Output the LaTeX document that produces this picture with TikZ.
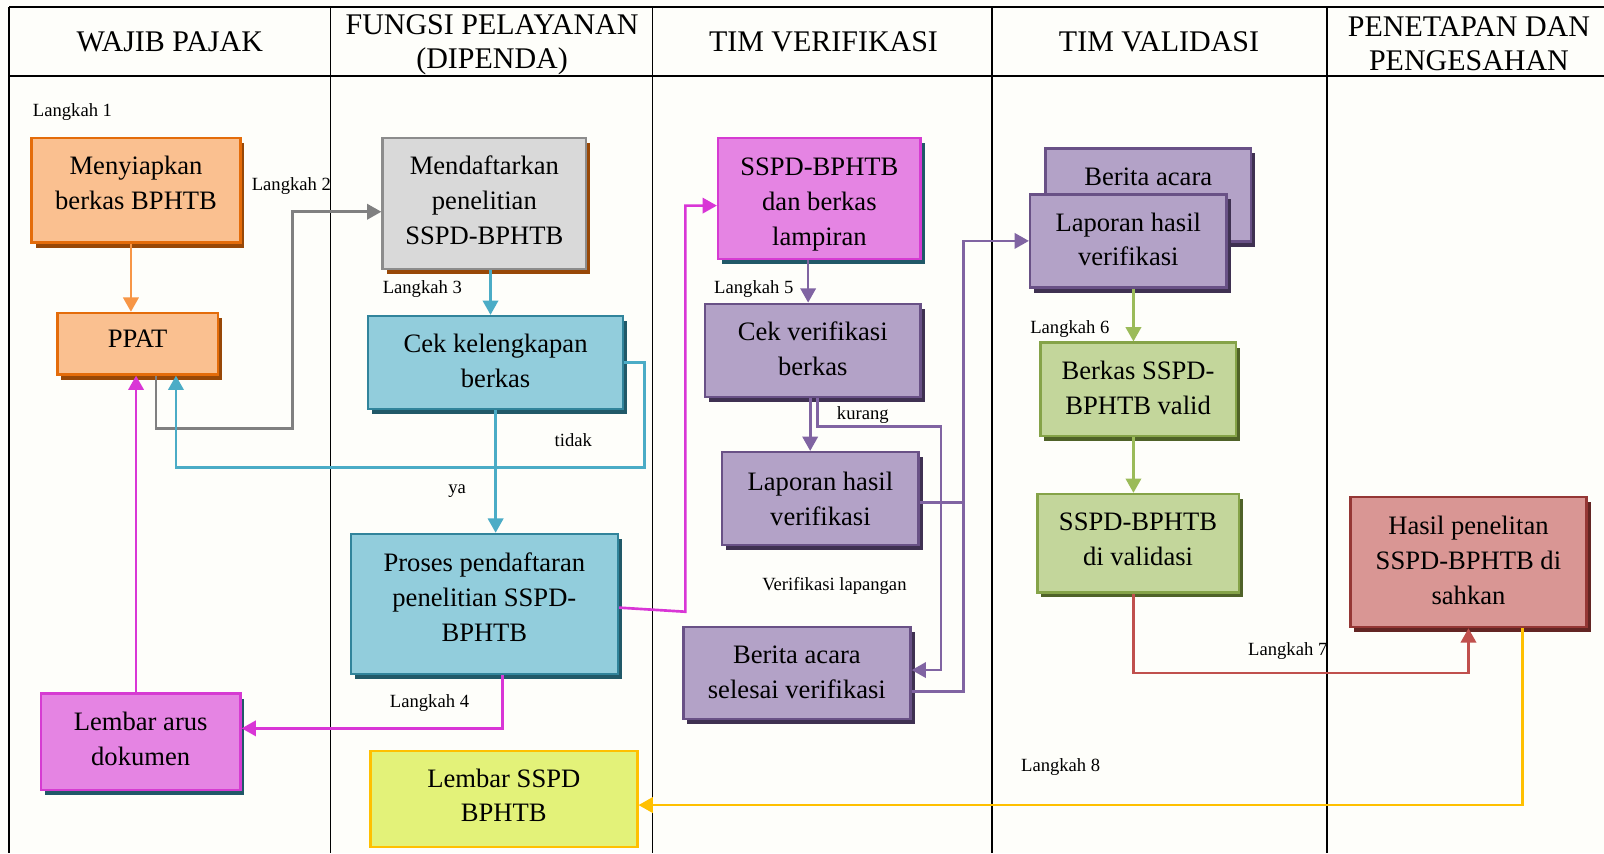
\documentclass[tikz,border=0pt]{standalone}
\usepackage{fontspec}
\setmainfont{Liberation Serif}
\usetikzlibrary{arrows.meta,shadows,calc}
\definecolor{orfill}{HTML}{FAC090}
\definecolor{ordraw}{HTML}{E46C0A}
\definecolor{orshadow}{HTML}{984807}
\definecolor{orline}{HTML}{F79646}
\definecolor{gyfill}{HTML}{D9D9D9}
\definecolor{gydraw}{HTML}{8C8C8C}
\definecolor{gyline}{HTML}{808080}
\definecolor{blfill}{HTML}{92CDDC}
\definecolor{bldraw}{HTML}{31849B}
\definecolor{blshadow}{HTML}{215968}
\definecolor{blline}{HTML}{4BACC6}
\definecolor{mgfill}{HTML}{E584E3}
\definecolor{mgdraw}{HTML}{D63BD2}
\definecolor{mgline}{HTML}{D936D6}
\definecolor{ylfill}{HTML}{E3F279}
\definecolor{yldraw}{HTML}{FFC000}
\definecolor{pufill}{HTML}{B3A2C7}
\definecolor{pudraw}{HTML}{5F497A}
\definecolor{pushadow}{HTML}{3F3151}
\definecolor{puline}{HTML}{8064A2}
\definecolor{grfill}{HTML}{C3D69B}
\definecolor{grdraw}{HTML}{77933C}
\definecolor{grshadow}{HTML}{4F6228}
\definecolor{grline}{HTML}{9BBB59}
\definecolor{rdfill}{HTML}{D99694}
\definecolor{rddraw}{HTML}{953735}
\definecolor{rdshadow}{HTML}{632523}
\definecolor{rdline}{HTML}{C0504D}
\definecolor{bgcream}{HTML}{FEFEFA}
\begin{document}
\begin{tikzpicture}[x=1pt,y=-1pt,
  box/.style={line width=2.4pt, inner sep=0pt},
  btxt/.style={align=center, inner sep=0pt, font=\fontsize{26}{34}\selectfont},
  shad/.style={general shadow={fill=#1, shadow xshift=4pt, shadow yshift=-5pt}},
  orbox/.style={box, draw=ordraw, fill=orfill, shad=orshadow},
  gybox/.style={box, draw=gydraw, fill=gyfill, shad=orshadow},
  blbox/.style={box, draw=bldraw, fill=blfill, shad=blshadow},
  mgbox/.style={box, draw=mgdraw, fill=mgfill, shad=blshadow},
  ylbox/.style={box, draw=yldraw, fill=ylfill},
  pubox/.style={box, draw=pudraw!70!puline, fill=pufill, shad=pushadow},
  grbox/.style={box, draw=grdraw!60!grline, fill=grfill, shad=grshadow},
  rdbox/.style={box, draw=rddraw, fill=rdfill, shad=rdshadow},
  conn/.style={line width=2.6pt, -{Triangle[width=15pt,length=14pt]}},
  plain/.style={line width=2.6pt},
  lab/.style={font=\fontsize{18.2}{21}\selectfont, anchor=west, inner sep=0pt},
  head/.style={font=\fontsize{29.3}{33}\selectfont, align=center, inner sep=0pt},
  grid/.style={line width=1.6pt, black}
]
\useasboundingbox (0,0) rectangle (1568,834);
\fill[bgcream] (0,0) rectangle (1568,834);

% table
\draw[grid] (9,7) -- (1568,7);
\draw[grid] (9,74) -- (1568,74);
\draw[grid] (9,7) -- (9,834);
\foreach \cx in {323,638,970,1297} \draw[grid] (\cx,7) -- (\cx,834);

% headers
\node[head] (h1) at (166,41) {WAJIB PAJAK};
\node[head] (h2) at (481,44) {FUNGSI PELAYANAN\\(DIPENDA)};
\node[head] (h3) at (805,41) {TIM VERIFIKASI};
\node[head] (h4) at (1133,41) {TIM VALIDASI};
\node[head] (h5) at (1436,43) {PENETAPAN DAN\\PENGESAHAN};

% boxes
\node[orbox, minimum width=204pt, minimum height=102pt] (menyiapkan) at (133,186) {};
\node[orbox, minimum width=157pt, minimum height=60pt] (ppat) at (134.5,336) {};
\node[gybox, minimum width=199pt, minimum height=128pt] (mendaftar) at (473.5,199) {};
\node[blbox, minimum width=249pt, minimum height=91pt] (cek) at (484.5,354.5) {};
\node[blbox, minimum width=261pt, minimum height=137pt] (proses) at (473.5,590.5) {};
\node[mgbox, minimum width=195pt, minimum height=94pt] (arus) at (137.5,725) {};
\node[ylbox, minimum width=261pt, minimum height=94pt] (lembarsspd) at (492.5,781) {};
\node[mgbox, minimum width=198pt, minimum height=118pt] (sspd) at (801,194) {};
\node[pubox, minimum width=211pt, minimum height=91pt] (cekverif) at (794.5,342.5) {};
\node[pubox, minimum width=192pt, minimum height=91pt] (lap1) at (802,487.5) {};
\node[pubox, minimum width=222pt, minimum height=90pt] (berita1) at (779,658) {};
\node[pubox, minimum width=201pt, minimum height=91pt] (berita2) at (1122.5,190.5) {};
\node[pubox, minimum width=192pt, minimum height=91pt] (lap2) at (1103,235.5) {};
\node[grbox, minimum width=191pt, minimum height=91pt] (valid) at (1112.5,380.5) {};
\node[grbox, minimum width=197pt, minimum height=96pt] (divalidasi) at (1112.5,531) {};
\node[rdbox, minimum width=231pt, minimum height=127pt] (hasil) at (1435.5,549.5) {};

% box texts
\node[btxt] (menyiapkan-t) at ([yshift=7pt]menyiapkan.center) {Menyiapkan\\berkas BPHTB};
\node[btxt] (ppat-t) at ([yshift=5pt]ppat.center) {PPAT};
\node[btxt] (mendaftar-t) at ([yshift=3pt]mendaftar.center) {Mendaftarkan\\penelitian\\SSPD-BPHTB};
\node[btxt] (cek-t) at ([yshift=1.5pt]cek.center) {Cek kelengkapan\\berkas};
\node[btxt] (proses-t) at ([yshift=6.5pt]proses.center) {Proses pendaftaran\\penelitian SSPD-\\BPHTB};
\node[btxt] (arus-t) at ([yshift=3pt]arus.center) {Lembar arus\\dokumen};
\node[btxt] (lembarsspd-t) at ([yshift=3.5pt]lembarsspd.center) {Lembar SSPD\\BPHTB};
\node[btxt] (sspd-t) at ([yshift=-6pt]sspd.center) {SSPD-BPHTB\\dan berkas\\lampiran};
\node[btxt] (cekverif-t) at ([yshift=1.5pt]cekverif.center) {Cek verifikasi\\berkas};
\node[btxt] (lap1-t) at (lap1.center) {Laporan hasil\\verifikasi};
\node[btxt] (berita1-t) at ([yshift=1pt]berita1.center) {Berita acara\\selesai verifikasi};
\node[btxt] (berita2-t) at ([yshift=18pt]berita2.center) {Berita acara};
\node[btxt] (lap2-t) at ([yshift=1.5pt]lap2.center) {Laporan hasil\\verifikasi};
\node[btxt] (valid-t) at ([yshift=1.5pt]valid.center) {Berkas SSPD-\\BPHTB valid};
\node[btxt] (divalidasi-t) at ([yshift=4pt]divalidasi.center) {SSPD-BPHTB\\di validasi};
\node[btxt] (hasil-t) at ([yshift=1.5pt]hasil.center) {Hasil penelitan\\SSPD-BPHTB di\\sahkan};

% helper coordinates
\coordinate (gx) at (286,419);
\coordinate (tx) at (630,457);
\coordinate (mx) at (670,598);
\coordinate (kx) at (920,417);
\coordinate (vbus) at (942,0);
\coordinate (redy) at (0,658);

% connectors
\draw[conn, orline] ([xshift=-5pt]menyiapkan.south) -- ([xshift=-5pt]menyiapkan.south |- ppat.north);
\draw[conn, gyline] ([xshift=18pt]ppat.south) |- (gx) |- ([yshift=-8pt]mendaftar.west);
\draw[conn, blline] ([xshift=6pt]mendaftar.south) -- ([xshift=6pt]mendaftar.south |- cek.north);
\draw[conn, blline] (cek.east) -| (tx) -| ([xshift=37.5pt]ppat.south);
\draw[conn, blline] (cek.south) -- (cek.south |- proses.north);
\draw[conn, mgline] ([yshift=-3.5pt]proses.east) -- (mx) |- ([yshift=-7pt]sspd.west);
\draw[conn, mgline] ([xshift=17.5pt]proses.south) |- ([yshift=13pt]arus.east);
\draw[conn, mgline] ([xshift=-4.5pt]arus.north) -- ([xshift=-4.5pt]arus.north |- ppat.south);
\draw[conn, puline] ([xshift=-11pt]sspd.south) -- ([xshift=-11pt]sspd.south |- cekverif.north);
\draw[conn, puline] ([xshift=-2.5pt]cekverif.south) -- ([xshift=-2.5pt]cekverif.south |- lap1.north);
\draw[conn, puline] ([xshift=4.5pt]cekverif.south) |- (kx) |- ([yshift=3pt]berita1.east);
\draw[plain, puline] ([yshift=-4pt]lap1.east) -- ([yshift=-4pt]lap1.east -| vbus);
\draw[conn, puline] ([yshift=-18pt]berita1.east) -| (vbus |- lap2.west) -- (lap2.west);
\draw[conn, grline] ([xshift=5pt]lap2.south) -- ([xshift=5pt]lap2.south |- valid.north);
\draw[conn, grline] ([xshift=-4.5pt]valid.south) -- ([xshift=-4.5pt]valid.south |- divalidasi.north);
\draw[conn, rdline] ([xshift=-4.5pt]divalidasi.south) |- (hasil.south |- redy) -- (hasil.south);
\draw[conn, yldraw] ([xshift=52.5pt]hasil.south) |- ([yshift=-6pt]lembarsspd.east);

% labels
\node[lab] (l1) at (32,110) {Langkah 1};
\node[lab] (l2) at (246,182) {Langkah 2};
\node[lab] (l3) at (374,283) {Langkah 3};
\node[lab] (tidak) at (542,430) {tidak};
\node[lab] (ya) at (438,480) {ya};
\node[lab] (l4) at (381,687) {Langkah 4};
\node[lab] (l5) at (698,283) {Langkah 5};
\node[lab] (kurang) at (818,406) {kurang};
\node[lab] (vl) at (745,573) {Verifikasi lapangan};
\node[lab] (l6) at (1007,322) {Langkah 6};
\node[lab] (l7) at (1220,636) {Langkah 7};
\node[lab] (l8) at (998,750) {Langkah 8};
\end{tikzpicture}
\end{document}
